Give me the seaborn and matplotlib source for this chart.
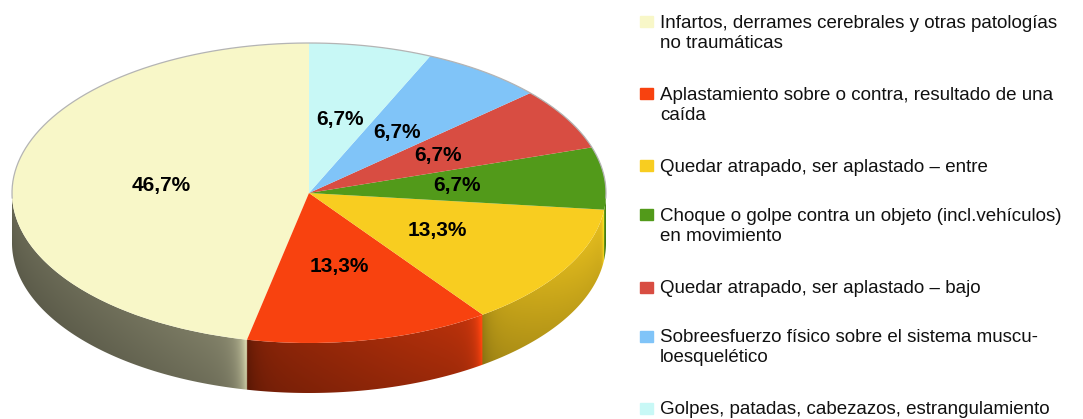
import numpy as np
import matplotlib
matplotlib.use("Agg")
import matplotlib.pyplot as plt
from matplotlib.patches import Rectangle, Polygon
from matplotlib.colors import to_rgb
import seaborn as sns

# Causes of fatal work accidents (share of cases, %)
categories = [
    "Infartos, derrames cerebrales y otras patologías\nno traumáticas",
    "Aplastamiento sobre o contra, resultado de una\ncaída",
    "Quedar atrapado, ser aplastado – entre",
    "Choque o golpe contra un objeto (incl.vehículos)\nen movimiento",
    "Quedar atrapado, ser aplastado – bajo",
    "Sobreesfuerzo físico sobre el sistema muscu-\nloesquelético",
    "Golpes, patadas, cabezazos, estrangulamiento",
]
shares = [46.7, 13.3, 13.3, 6.7, 6.7, 6.7, 6.7]

colors = ["#f8f7c8", "#f8420f", "#f8cd20", "#529a1a", "#d84d42", "#80c4f8", "#c8f8f6"]

sns.set_theme(style="white")
plt.rcParams["font.family"] = ["Liberation Sans", "DejaVu Sans"]

W, H = 1083, 419
fig = plt.figure(figsize=(W / 100, H / 100), dpi=100)

# Pie drawn on a squashed axis to give a tilted (3-D) look
cx, cy = 309, 193        # pie centre in pixels
rx, ry = 297, 150        # horizontal / vertical radius in pixels
depth = 50 / ry          # wall thickness in y data units
ax_w = 620
ax = fig.add_axes([0, 0, ax_w / W, 1])


def pct_label(p):
    return f"{p:.1f}".replace(".", ",") + "%"


wedges, texts, autotexts = ax.pie(
    shares, colors=colors, startangle=90, counterclock=True,
    autopct=pct_label, pctdistance=0.5,
    wedgeprops=dict(linewidth=0, zorder=2),
    textprops=dict(fontsize=15, fontweight="bold", color="black"),
)
for t in autotexts:
    t.set_zorder(5)

# Front wall of the disc: a shaded image clipped to the wall outline
total = sum(shares)
bounds = 90 + np.concatenate([[0], np.cumsum(shares)]) / total * 360
nx, ny = 1600, 120
xs = np.linspace(-1, 1, nx)
deg = 360 - np.degrees(np.arccos(xs))            # front half: 180..360 degrees
idx = np.clip(np.searchsorted(bounds, deg, side="right") - 1, 0, len(shares) - 1)
a0, a1 = bounds[idx], bounds[idx + 1]
base = np.array([to_rgb(c) for c in colors])[idx]
f = 0.42 + 0.50 * ((xs + 1) / 2) ** 1.6
f -= 0.14 * np.exp(-(deg - a0) / 2.0)            # shadow where a slice wall starts
f += 0.40 * np.exp(-(a1 - deg) / 1.5)            # highlight at a slice's far edge

ymin, ymax = -1 - depth, 0.0
ys = np.linspace(ymin, ymax, ny)
ytop = -np.sqrt(np.clip(1 - xs ** 2, 0, 1))
v = np.clip((ytop[None, :] - ys[:, None]) / depth, 0, 1)   # 0 at rim, 1 at bottom
shade = f[None, :] * (1 - 0.12 * v)
img = np.clip(base[None, :, :] * shade[:, :, None], 0, 1)

arc = np.radians(np.linspace(180, 360, 400))
outline = np.vstack([np.column_stack([np.cos(arc), np.sin(arc)]),
                     np.column_stack([np.cos(arc[::-1]), np.sin(arc[::-1]) - depth])])
clip = Polygon(outline, closed=True, facecolor="none", edgecolor="none",
               transform=ax.transData)
ax.add_patch(clip)
im = ax.imshow(img, extent=[-1, 1, ymin, ymax], origin="lower", aspect="auto",
               interpolation="bilinear", zorder=1)
im.set_clip_path(clip)

# thin rim along the back of the disc
tt = np.radians(np.linspace(-2, 182, 200))
ax.plot(np.cos(tt), np.sin(tt), color="#b4b4b4", lw=0.9, zorder=3)

ax.set_aspect("auto")
ax.set_xlim(-cx / rx, (ax_w - cx) / rx)
ax.set_ylim(-(H - cy) / ry, cy / ry)
ax.axis("off")

# Legend
y = 22.0
for label, col in zip(categories, colors):
    n = label.count("\n") + 1
    fig.patches.append(Rectangle((640 / W, 1 - (y + 5.5) / H), 13 / W, 11 / H,
                                 transform=fig.transFigure, color=col, zorder=3))
    fig.text(660 / W, 1 - (y - 7.5) / H, label, ha="left", va="top",
             fontsize=13.5, linespacing=1.235, color="#111111")
    y += n * 23 + 26

fig.savefig("out.png", dpi=100)
